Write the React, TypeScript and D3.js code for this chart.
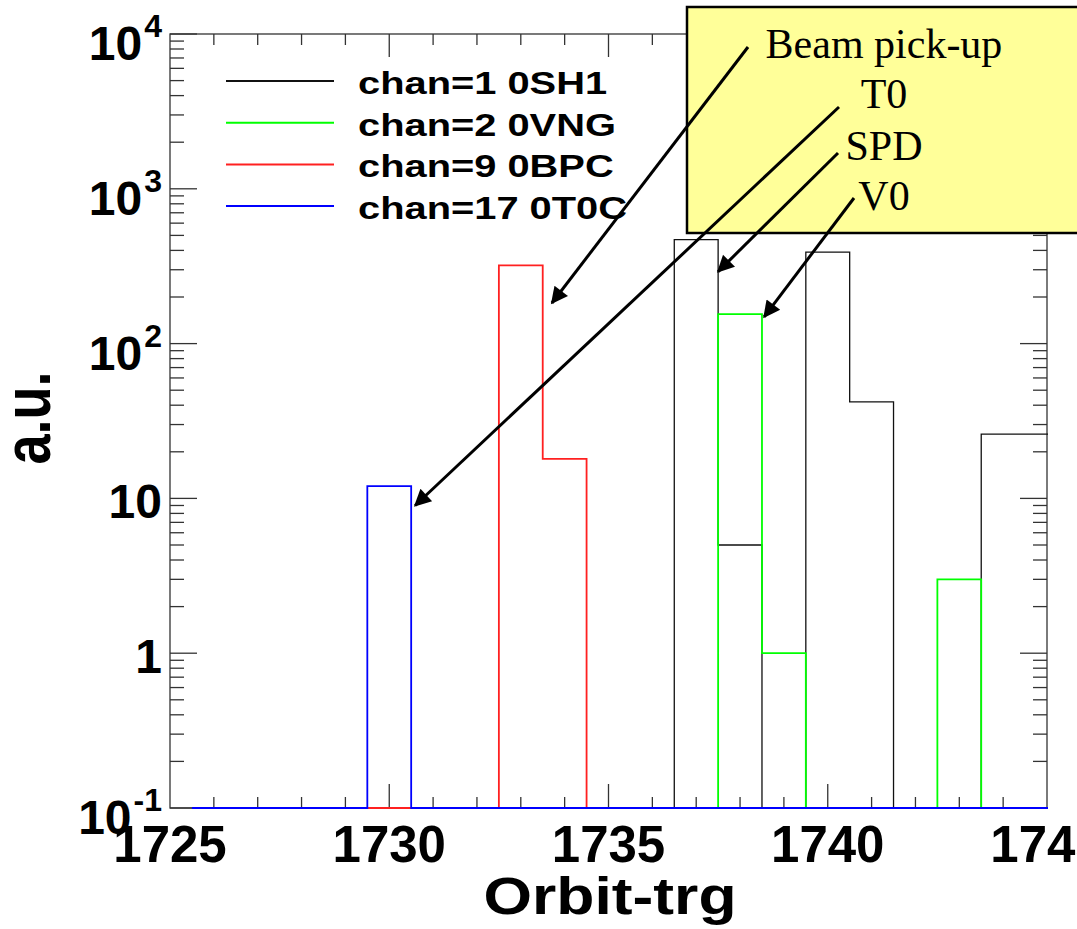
import React from "react";
import * as d3 from "d3";

// ---- data ----
const binCenters = [1726, 1727, 1728, 1729, 1730, 1731, 1732, 1733, 1734, 1735, 1736, 1737, 1738, 1739, 1740, 1741, 1742, 1743, 1744, 1745];
const chan1 = [0, 0, 0, 0, 0, 0, 0, 0, 0, 0, 0, 470, 5, 0, 390, 42, 0, 0, 26, 26];
const chan2 = [0, 0, 0, 0, 0, 0, 0, 0, 0, 0, 0, 0, 155, 1, 0, 0, 0, 3, 0, 0];
const chan9 = [0, 0, 0, 0, 0, 0, 0, 320, 18, 0, 0, 0, 0, 0, 0, 0, 0, 0, 0, 0];
const chan17 = [0, 0, 0, 0, 12, 0, 0, 0, 0, 0, 0, 0, 0, 0, 0, 0, 0, 0, 0, 0];
const seriesNames = ["chan=1 0SH1", "chan=2 0VNG", "chan=9 0BPC", "chan=17 0T0C"];
const seriesColors = ["#111111", "#00ff00", "#ff2020", "#0000ff"];
const xTickLabels = [1725, 1730, 1735, 1740, 1745];
const yDecades = [0.1, 1, 10, 100, 1000, 10000];
const yDecadeBase = ["10", "1", "10", "10", "10", "10"];
const yDecadeExp = ["-1", "", "", "2", "3", "4"];
const annotationLabels = ["Beam pick-up", "T0", "SPD", "V0"];
// arrow tips in data coordinates [x, y]
const annotationTips: [number, number][] = [
  [1733.71, 183],
  [1730.59, 9.0],
  [1737.5, 292],
  [1738.55, 149],
];

const W = 1077;
const H = 929;
const L = 170, R = 1047, T = 34, B = 808;
const FONT = "'Liberation Sans', Arial, Helvetica, sans-serif";
const SERIF = "'Liberation Serif', 'Times New Roman', serif";

export default function App() {
  const x = d3.scaleLinear().domain([1725, 1745]).range([L, R]);
  const y = d3.scaleLog().domain([0.1, 10000]).range([B, T]);
  const yv = (v: number) => (v <= 0.1 ? B : y(v));

  const histPath = (vals: number[]) => {
    const p = d3.path();
    const x0 = x(binCenters[0] - 0.5);
    p.moveTo(x0, yv(vals[0]));
    for (let i = 0; i < vals.length; i++) {
      const xr = x(binCenters[i] + 0.5);
      p.lineTo(xr, yv(vals[i]));
      if (i + 1 < vals.length) p.lineTo(xr, yv(vals[i + 1]));
    }
    return p.toString();
  };

  const series = [chan1, chan2, chan9, chan17];

  const xMinor = d3.range(1726, 1745);
  const yMinor: number[] = [];
  for (let d = -1; d < 4; d++) {
    for (let k = 2; k <= 9; k++) yMinor.push(k * Math.pow(10, d));
  }

  const axisColor = "#333";

  const annTails: [number, number][] = [
    [748, 47],
    [839, 107],
    [838, 153],
    [854, 198],
  ];
  const annBaselines = [58, 108, 160, 210];

  return (
    <svg
      width={W}
      height={H}
      viewBox={`0 0 ${W} ${H}`}
      style={{ position: "absolute", left: 0, top: 0, background: "#fff" }}
    >
      <defs>
        <clipPath id="plotclip">
          <rect x={L} y={0} width={R - L + 1} height={B + 4} />
        </clipPath>
        <marker
          id="ah"
          viewBox="0 0 10 10"
          refX={9}
          refY={5}
          markerWidth={22}
          markerHeight={17}
          markerUnits="userSpaceOnUse"
          orient="auto"
        >
          <path d="M0,0 L10,5 L0,10 z" fill="#000" />
        </marker>
      </defs>
      <rect x={0} y={0} width={W} height={H} fill="#fff" />

      {/* frame */}
      <rect x={L} y={T} width={R - L} height={B - T} fill="none" stroke={axisColor} strokeWidth={1.3} />

      {/* x ticks bottom & top */}
      {xMinor.map((v) => {
        const major = v % 5 === 0;
        const xx = x(v);
        return (
          <g key={"xt" + v} stroke={axisColor} strokeWidth={1.3}>
            <line x1={xx} x2={xx} y1={B} y2={B - (major ? 24 : 11)} />
            <line x1={xx} x2={xx} y1={T} y2={T + (major ? 23 : 11)} />
          </g>
        );
      })}

      {/* y ticks left & right */}
      {yDecades.map((v) => (
        <g key={"yM" + v} stroke={axisColor} strokeWidth={1.3}>
          <line x1={L} x2={L + 27} y1={y(v)} y2={y(v)} />
          <line x1={R} x2={R - 27} y1={y(v)} y2={y(v)} />
        </g>
      ))}
      {yMinor.map((v) => (
        <g key={"ym" + v} stroke={axisColor} strokeWidth={1.3}>
          <line x1={L} x2={L + 14} y1={y(v)} y2={y(v)} />
          <line x1={R} x2={R - 14} y1={y(v)} y2={y(v)} />
        </g>
      ))}

      {/* histograms (drawn over the frame, like ROOT) */}
      <g clipPath="url(#plotclip)">
        {series.map((vals, i) => (
          <path
            key={i}
            d={histPath(vals)}
            fill="none"
            stroke={seriesColors[i]}
            strokeWidth={i === 0 ? 1.3 : 1.8}
          />
        ))}
      </g>

      {/* y tick labels */}
      {yDecades.map((v, i) => {
        const hasExp = yDecadeExp[i] !== "";
        return (
          <text
            key={"yl" + v}
            x={162}
            y={y(v) + (hasExp ? 26 : 20)}
            textAnchor="end"
            fontFamily={FONT}
            fontWeight="bold"
            fontSize={48}
            fill="#000"
          >
            {yDecadeBase[i]}
            {hasExp && (
              <tspan fontSize={32} dy={-23} dx={2}>
                {yDecadeExp[i]}
              </tspan>
            )}
          </text>
        );
      })}

      {/* x tick labels */}
      {xTickLabels.map((v) => (
        <text
          key={"xl" + v}
          x={x(v)}
          y={862}
          textAnchor="middle"
          fontFamily={FONT}
          fontWeight="bold"
          fontSize={51}
          fill="#000"
        >
          {v}
        </text>
      ))}

      {/* axis titles */}
      <text
        transform={`translate(610,914) scale(1.2,1)`}
        textAnchor="middle"
        fontFamily={FONT}
        fontWeight="bold"
        fontSize={52}
        fill="#000"
      >
        Orbit-trg
      </text>
      <text
        transform={`translate(50,418) scale(1.245,1) rotate(-90)`}
        textAnchor="middle"
        fontFamily={FONT}
        fontWeight="bold"
        fontSize={54}
        fill="#000"
      >
        a.u.
      </text>

      {/* legend */}
      {seriesNames.map((name, i) => {
        const ly = 81 + i * 41.7;
        return (
          <g key={"lg" + i}>
            <line x1={226} x2={334} y1={ly} y2={ly} stroke={seriesColors[i]} strokeWidth={2} />
            <text
              transform={`translate(358,${ly + 13}) scale(1.245,1)`}
              fontFamily={FONT}
              fontWeight="bold"
              fontSize={32}
              fill="#000"
            >
              {name}
            </text>
          </g>
        );
      })}

      {/* annotation box */}
      <rect x={687} y={7} width={420} height={226} fill="#ffff99" stroke="#000" strokeWidth={2.5} />
      {annotationLabels.map((t, i) => (
        <text
          key={"an" + i}
          x={884}
          y={annBaselines[i]}
          textAnchor="middle"
          fontFamily={SERIF}
          fontSize={42}
          fill="#000"
        >
          {t}
        </text>
      ))}
      {annotationTips.map((tip, i) => (
        <line
          key={"ar" + i}
          x1={annTails[i][0]}
          y1={annTails[i][1]}
          x2={x(tip[0])}
          y2={y(tip[1])}
          stroke="#000"
          strokeWidth={3}
          markerEnd="url(#ah)"
        />
      ))}
    </svg>
  );
}
